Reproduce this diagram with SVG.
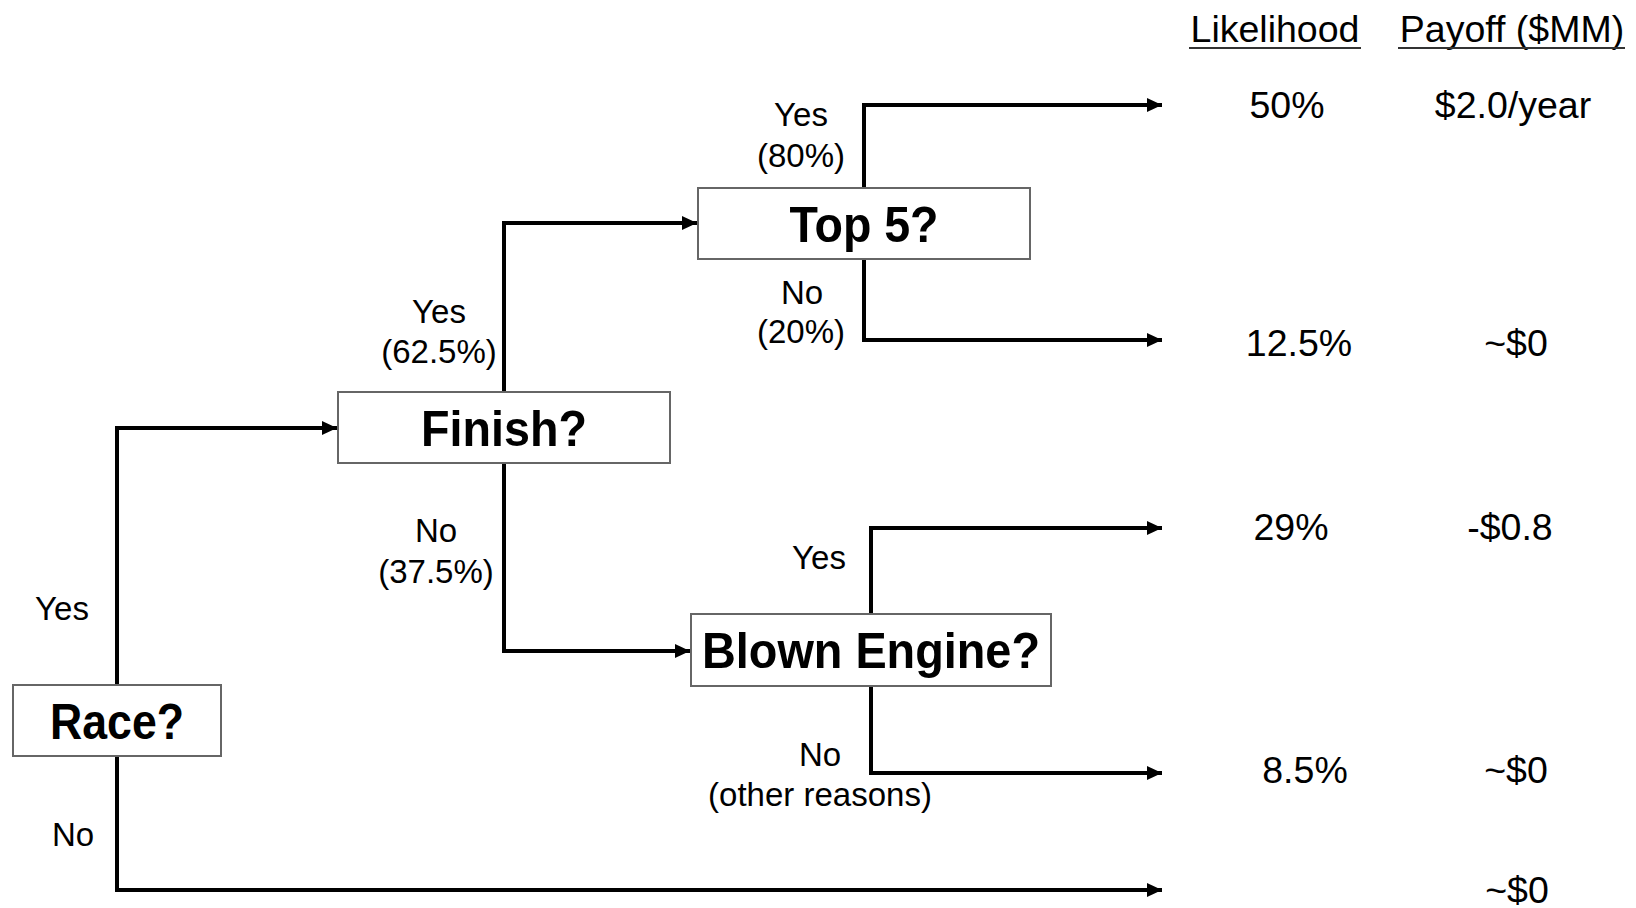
<svg xmlns="http://www.w3.org/2000/svg" width="1636" height="908" viewBox="0 0 1636 908">
<style>
.box{fill:#fff;stroke:#666;stroke-width:2}
.nt{font-family:"Liberation Sans",Arial,sans-serif;font-weight:bold;font-size:50px;fill:#000;text-anchor:middle}
.lb{font-family:"Liberation Sans",Arial,sans-serif;font-size:33px;fill:#000;text-anchor:middle}
.rt{font-family:"Liberation Sans",Arial,sans-serif;font-size:37.5px;fill:#000;text-anchor:middle}
.cn{fill:none;stroke:#000;stroke-width:4;marker-end:url(#ah)}
.ul{stroke:#333;stroke-width:2}
</style>
<defs>
<marker id="ah" markerUnits="userSpaceOnUse" markerWidth="18" markerHeight="16" refX="15" refY="7" orient="auto">
<polygon points="0,0 15,7 0,14" fill="#000"/>
</marker>
</defs>
<rect width="1636" height="908" fill="#fff"/>
<g id="connectors">
<path class="cn" d="M117 685 V428 H337"/>
<path class="cn" d="M117 756 V890 H1162"/>
<path class="cn" d="M504 392 V223 H697"/>
<path class="cn" d="M504 463 V651 H690"/>
<path class="cn" d="M864 188 V105 H1162"/>
<path class="cn" d="M864 259 V340 H1162"/>
<path class="cn" d="M871 614 V528 H1162"/>
<path class="cn" d="M871 686 V773 H1162"/>
</g>
<g id="race">
<rect class="box" x="13" y="685" width="208" height="71"/>
<text class="nt" x="117" y="739" textLength="134" lengthAdjust="spacingAndGlyphs">Race?</text>
</g>
<g id="finish">
<rect class="box" x="338" y="392" width="332" height="71"/>
<text class="nt" x="504" y="446" textLength="166" lengthAdjust="spacingAndGlyphs">Finish?</text>
</g>
<g id="top5">
<rect class="box" x="698" y="188" width="332" height="71"/>
<text class="nt" x="864" y="242" textLength="149" lengthAdjust="spacingAndGlyphs">Top 5?</text>
</g>
<g id="blown">
<rect class="box" x="691" y="614" width="360" height="72"/>
<text class="nt" x="871" y="668" textLength="338" lengthAdjust="spacingAndGlyphs">Blown Engine?</text>
</g>
<g id="labels">
<text class="lb" x="62" y="620">Yes</text>
<text class="lb" x="73" y="846">No</text>
<text class="lb" x="439" y="323">Yes</text>
<text class="lb" x="439" y="363">(62.5%)</text>
<text class="lb" x="436" y="542">No</text>
<text class="lb" x="436" y="583">(37.5%)</text>
<text class="lb" x="801" y="126">Yes</text>
<text class="lb" x="801" y="167">(80%)</text>
<text class="lb" x="802" y="304">No</text>
<text class="lb" x="801" y="343">(20%)</text>
<text class="lb" x="819" y="569">Yes</text>
<text class="lb" x="820" y="766">No</text>
<text class="lb" x="820" y="806">(other reasons)</text>
</g>
<g id="table">
<text class="rt" x="1275" y="42">Likelihood</text>
<line class="ul" x1="1189" y1="48" x2="1361" y2="48"/>
<text class="rt" x="1512" y="42">Payoff ($MM)</text>
<line class="ul" x1="1398" y1="48" x2="1625" y2="48"/>
<text class="rt" x="1287" y="118">50%</text>
<text class="rt" x="1513" y="118">$2.0/year</text>
<text class="rt" x="1299" y="356">12.5%</text>
<text class="rt" x="1516" y="356">~$0</text>
<text class="rt" x="1291" y="540">29%</text>
<text class="rt" x="1510" y="540">-$0.8</text>
<text class="rt" x="1305" y="783">8.5%</text>
<text class="rt" x="1516" y="783">~$0</text>
<text class="rt" x="1517" y="903">~$0</text>
</g>
</svg>
